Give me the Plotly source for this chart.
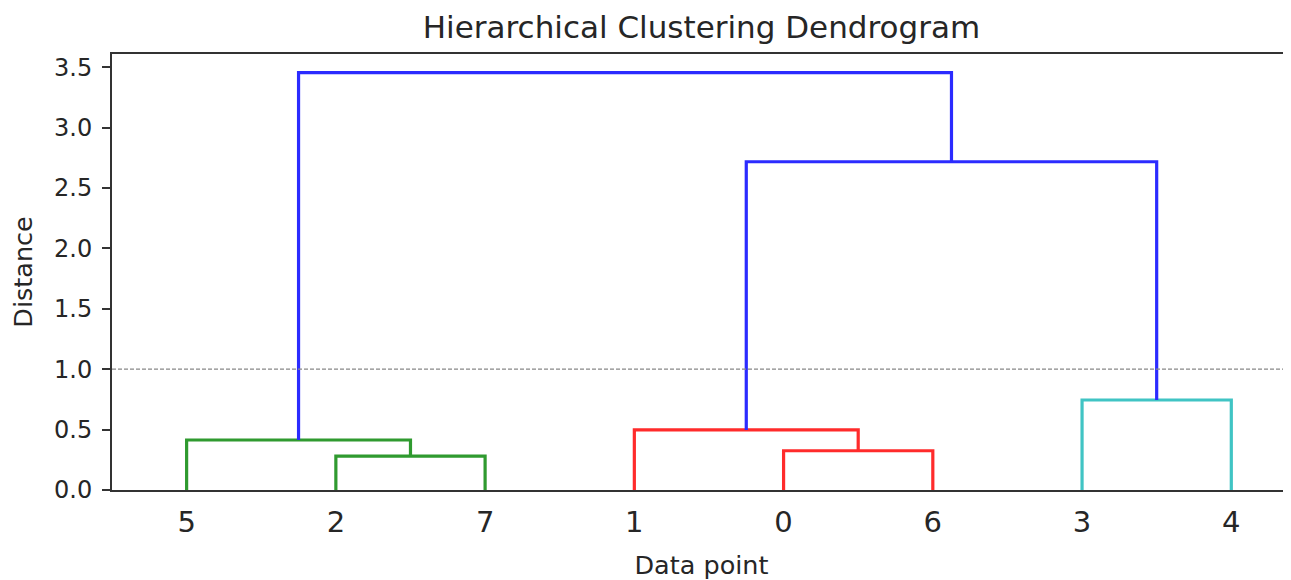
import plotly.graph_objects as go

# ---- data ----
leaf_order = [5, 2, 7, 1, 0, 6, 3, 4]           # leaves left-to-right
# merges: (node name, left child, right child, height, colour group)
merge_names = ["A", "G", "B", "R", "C", "D", "ROOT"]
merge_left = [2, 5, 0, 1, 3, "R", "G"]
merge_right = [7, "A", 6, "B", 4, "C", "D"]
merge_height = [0.28, 0.414, 0.325, 0.497, 0.745, 2.718, 3.455]
merge_group = ["g", "g", "r", "r", "c", "b", "b"]
threshold = 1.0
y_ticks = [0.0, 0.5, 1.0, 1.5, 2.0, 2.5, 3.0, 3.5]

colors = {"g": "#2f9a2f", "r": "#ff2b2b", "c": "#40c4c4", "b": "#2b2bff"}

# positions as in scipy dendrogram (leaves at 5, 15, 25, ...)
pos_x = {leaf: 5 + 10 * i for i, leaf in enumerate(leaf_order)}
pos_y = {leaf: 0.0 for leaf in leaf_order}

fig = go.Figure()
for name, l, r, h, g in zip(merge_names, merge_left, merge_right, merge_height, merge_group):
    xl, xr = pos_x[l], pos_x[r]
    yl, yr = pos_y[l], pos_y[r]
    fig.add_trace(go.Scatter(
        x=[xl, xl, xr, xr], y=[yl, h, h, yr], mode="lines",
        line=dict(color=colors[g], width=3.2), hoverinfo="skip", showlegend=False))
    pos_x[name] = (xl + xr) / 2
    pos_y[name] = h

x_max = 79
fig.add_trace(go.Scatter(
    x=[0, x_max], y=[threshold, threshold], mode="lines",
    line=dict(color="#888888", width=1.2, dash="4px,2px"),
    hoverinfo="skip", showlegend=False))

font = "DejaVu Sans, sans-serif"
W, H = 1283, 572   # page body has an 8px margin
fig.update_layout(
    width=W, height=H,
    margin=dict(l=104, r=0, t=46, b=90),
    plot_bgcolor="white", paper_bgcolor="white",
    font=dict(family=font, color="#262626"),
    title=dict(text="Hierarchical Clustering Dendrogram", x=0.5, xref="paper",
               y=1 - 19 / H, yref="container", yanchor="middle", xanchor="center",
               font=dict(size=31, family=font, color="#262626")),
    xaxis=dict(range=[0, x_max], tickvals=[pos_x[l] for l in leaf_order],
               ticktext=[str(l) for l in leaf_order], tickfont=dict(size=29),
               ticks="outside", ticklen=5, tickcolor="rgba(0,0,0,0)",
               showline=True, linecolor="#333333", linewidth=2, mirror=True,
               showgrid=False, zeroline=False,
               title=dict(text="Data point", font=dict(size=25.5), standoff=20)),
    yaxis=dict(range=[0, 3.61], tickvals=y_ticks, tickformat=".1f",
               tickfont=dict(size=24), ticks="outside", ticklen=8, tickwidth=1.8,
               tickcolor="#333333", ticklabelstandoff=5,
               showline=True, linecolor="#333333", linewidth=2,
               showgrid=False, zeroline=False,
               title=dict(text="Distance", font=dict(size=25.5), standoff=15)),
)

fig.write_html("out.html")
